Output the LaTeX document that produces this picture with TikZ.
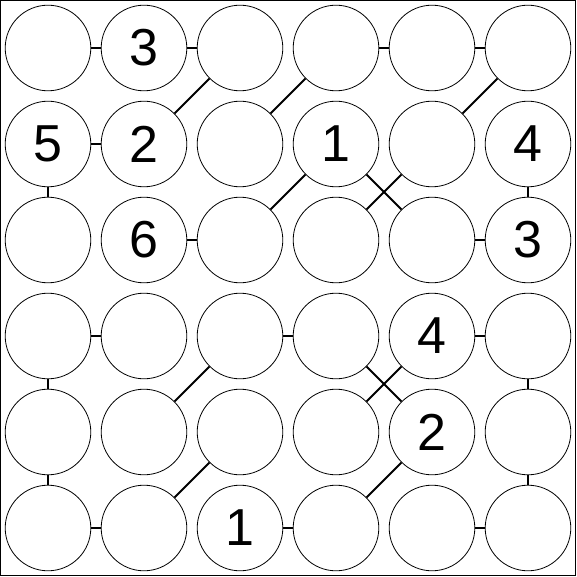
\documentclass[tikz,border=0pt]{standalone}
\usepackage{fontspec}
\setmainfont{Liberation Sans}
\usepackage{tikz}
\usetikzlibrary{positioning}
\tikzset{>=stealth}
\begin{document}
\begin{tikzpicture}[x=1pt,y=-1pt,
  cell/.style={draw,circle,line width=.8pt,minimum size=85.6pt,inner sep=0pt,font=\fontsize{52}{52}\selectfont},
  link/.style={line width=2pt}]
\useasboundingbox (0,0) rectangle (577,577);
\draw[line width=1pt] (0.5,0.5) rectangle (575,575);
\foreach \row [count=\r] in {{{},3,{},{},{},{}},{5,2,{},1,{},4},{{},6,{},{},{},3},{{},{},{},{},4,{}},{{},{},{},{},2,{}},{{},{},1,{},{},{}}}
  \foreach \t [count=\c] in \row
    \node[cell] (c\r\c) at ({96*\c-48},{96*\r-48}) {\t};
\foreach \a/\b in {11/12,12/13,14/15,15/16,21/22,32/33,35/36,41/42,43/44,45/46,61/62,63/64,65/66}
  \draw[link] (c\a) -- (c\b);
\foreach \a/\b in {21/31,26/36,41/51,46/56,51/61,56/66}
  \draw[link] (c\a) -- (c\b);
\foreach \a/\b in {13/22,14/23,16/25,24/33,25/34,24/35,43/52,44/55,45/54,53/62,55/64}
  \draw[link] (c\a) -- (c\b);
\end{tikzpicture}
\end{document}
